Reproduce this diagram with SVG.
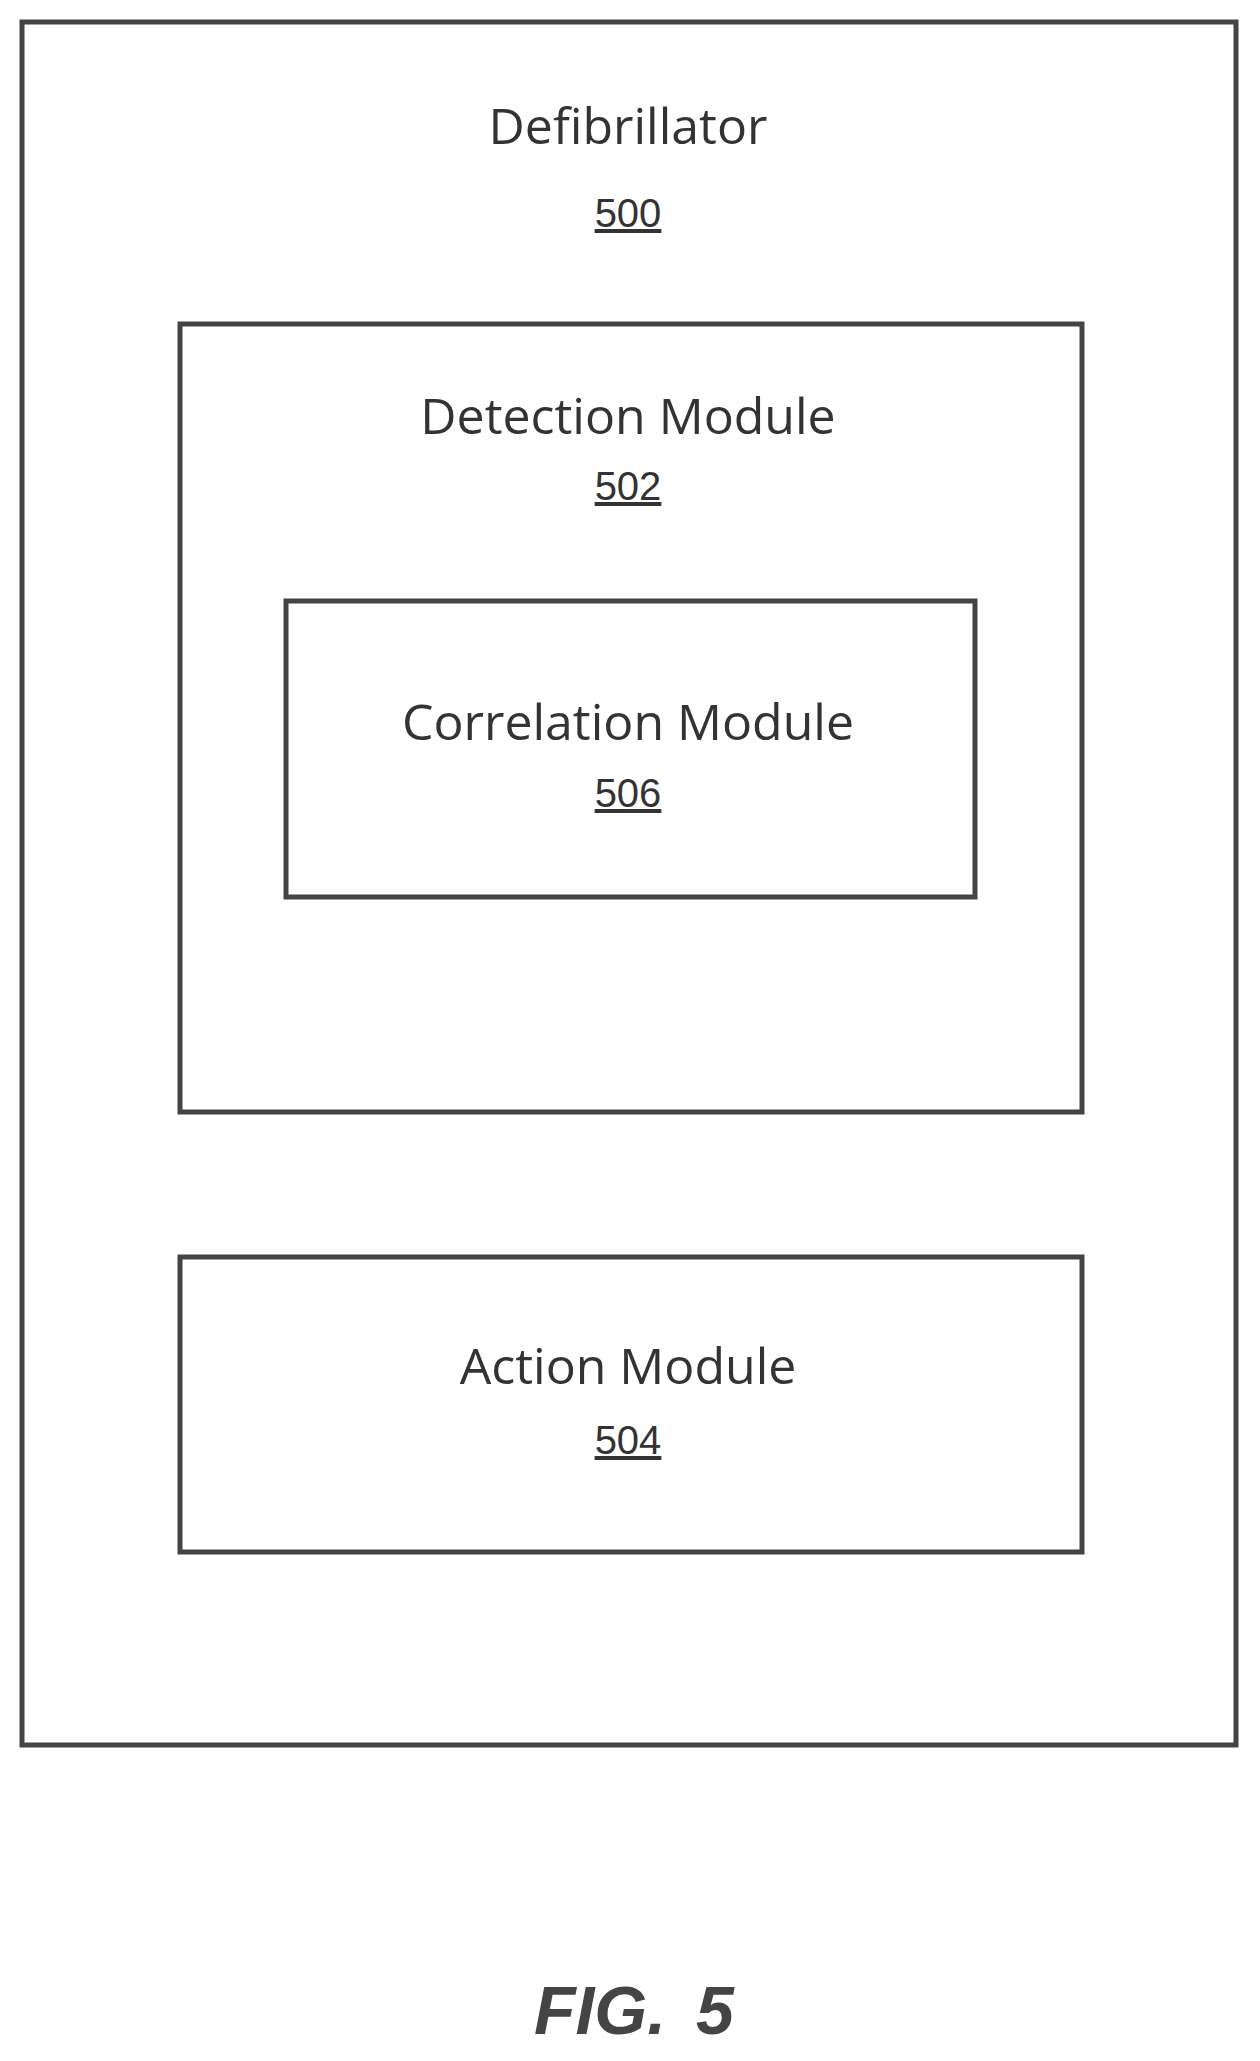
<svg xmlns="http://www.w3.org/2000/svg" width="1260" height="2061" viewBox="0 0 1260 2061">
<style>
.box{fill:#fff;stroke:#444;stroke-width:5}
.t{font-family:"Open Sans","Liberation Sans",sans-serif;font-size:50px;fill:#333;text-anchor:middle}
.n{font-family:"Liberation Sans",sans-serif;font-size:40px;fill:#333;text-anchor:middle;text-decoration:underline}
.fig{font-family:"Liberation Sans",sans-serif;font-size:68px;font-weight:bold;font-style:italic;fill:#444;text-anchor:middle}
</style>
<rect width="1260" height="2061" fill="#fff"/>
<g id="n500"><rect class="box" x="22" y="22" width="1214" height="1723"/>
<text class="t" x="628" y="144">Defibrillator</text><text class="n" x="628" y="227">500</text></g>
<g id="n502"><rect class="box" x="180" y="324" width="902" height="788"/>
<text class="t" x="628" y="434">Detection Module</text><text class="n" x="628" y="500">502</text></g>
<g id="n506"><rect class="box" x="286" y="601" width="689" height="296"/>
<text class="t" x="628" y="740">Correlation Module</text><text class="n" x="628" y="807">506</text></g>
<g id="n504"><rect class="box" x="180" y="1257" width="902" height="295"/>
<text class="t" x="628" y="1384">Action Module</text><text class="n" x="628" y="1454">504</text></g>
<g id="connectors"/>
<text class="fig" x="600" y="2034">FIG.</text><text class="fig" x="715" y="2034">5</text>
</svg>
